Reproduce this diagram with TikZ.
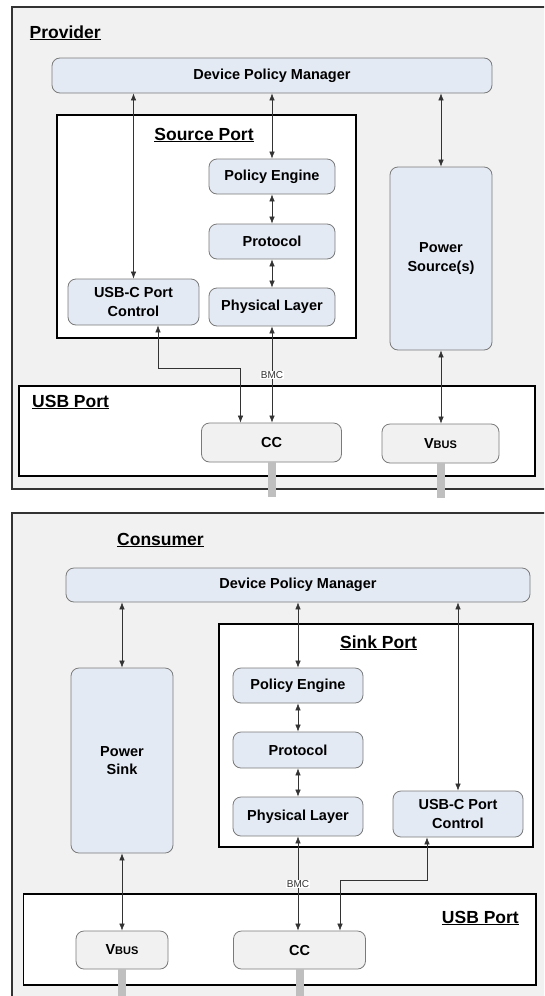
\documentclass[tikz,border=0pt]{standalone}
\usepackage{fontspec}
\setmainfont{Liberation Sans}
\usetikzlibrary{arrows.meta}
\definecolor{panelgray}{HTML}{F1F1F1}
\definecolor{boxblue}{HTML}{E4EAF4}
\definecolor{boxedge}{HTML}{7A7A7A}
\definecolor{stubgray}{HTML}{BFBFBF}
\tikzset{
  block/.style={draw=boxedge, fill=boxblue, rounded corners=8pt, line width=0.8pt,
    font=\bfseries\fontsize{14.5}{18.5}\selectfont, align=center, inner sep=0pt},
  portbox/.style={block, fill=panelgray},
  portframe/.style={draw=black, fill=white, line width=1.2pt},
  panel/.style={draw=black!80, fill=panelgray, line width=1.5pt},
  heading/.style={font=\bfseries\fontsize{17.5}{20}\selectfont, inner sep=0pt},
  link/.style={{Latex[length=7pt,width=5.5pt]}-{Latex[length=7pt,width=5.5pt]}, draw=black!80, line width=0.6pt},
  stub/.style={draw=stubgray, line width=8pt},
  bmc/.style={fill=white, font=\fontsize{10}{12}\selectfont, inner sep=0.6pt, text=black!80}
}
\begin{document}
\begin{tikzpicture}[x=1pt, y=-1pt]
  \useasboundingbox (0,0) rectangle (544,996);
  \clip (0,0) rectangle (544,996);
  % provider
  \draw[panel] (12,7) rectangle (600,489);
  \node[heading, anchor=base west] (provTitle) at (29.5,38) {\underline{Provider}};
  \node[block, minimum width=440pt, minimum height=35pt] (dpmA) at (272,75.5) {Device Policy Manager};
  \draw[portframe] (57,115) rectangle (356,338);
  \node[heading, anchor=base] (srcTitle) at (204,140) {\underline{Source Port}};
  \node[block, minimum width=126pt, minimum height=35pt] (peA) at (272,176.5) {Policy Engine};
  \node[block, minimum width=126pt, minimum height=35pt] (protoA) at (272,241.5) {Protocol};
  \node[block, minimum width=126pt, minimum height=38pt] (phyA) at (272,307) {Physical Layer};
  \node[block, minimum width=131pt, minimum height=46pt] (ctrlA) at (133.5,302) {USB-C Port\\Control};
  \node[block, minimum width=102pt, minimum height=183pt] (supplyA) at (441,258.5) {Power\\Source(s)};
  \draw[portframe] (19,386) rectangle (535,476);
  \node[heading, anchor=base west] (usbTitleA) at (32,407) {\underline{USB Port}};
  \node[portbox, minimum width=140pt, minimum height=39pt] (ccA) at (271.5,442.5) {CC};
  \node[portbox, minimum width=117pt, minimum height=39pt] (vbusA) at (440.5,443.5) {V{\fontsize{11}{12}\selectfont BUS}};
  \draw[stub] (ccA.south) -- ++(0,35);
  \draw[stub] (vbusA.south) -- ++(0,35);
  \coordinate (bendA) at (240.5,368);
  \begin{scope}[link]
    \draw (dpmA.south -| ctrlA.north) -- (ctrlA.north);
    \draw (dpmA.south -| peA.north) -- (peA.north);
    \draw (peA) -- (protoA);
    \draw (protoA) -- (phyA);
    \draw (phyA.south) -- (phyA.south |- ccA.north);
    \draw (dpmA.south -| supplyA.north) -- (supplyA.north);
    \draw (supplyA.south) -- (supplyA.south |- vbusA.north);
    \draw ([xshift=24.5pt]ctrlA.south) |- (bendA) -- (bendA |- ccA.north);
  \end{scope}
  \node[bmc] (bmcA) at (272,375) {BMC};
  % consumer
  \draw[panel] (12,513) rectangle (600,1100);
  \node[heading, anchor=base west] (consTitle) at (117,545) {\underline{Consumer}};
  \node[block, minimum width=464pt, minimum height=34pt] (dpmB) at (298,585) {Device Policy Manager};
  \draw[portframe] (219,624) rectangle (533,847);
  \node[heading, anchor=base] (sinkTitle) at (378.5,648) {\underline{Sink Port}};
  \node[block, minimum width=102pt, minimum height=185pt] (loadB) at (122,760.5) {Power\\Sink};
  \node[block, minimum width=130pt, minimum height=35pt] (peB) at (298,685.5) {Policy Engine};
  \node[block, minimum width=130pt, minimum height=36pt] (protoB) at (298,750) {Protocol};
  \node[block, minimum width=130pt, minimum height=39pt] (phyB) at (298,816.5) {Physical Layer};
  \node[block, minimum width=130pt, minimum height=46pt] (ctrlB) at (458,814) {USB-C Port\\Control};
  \draw[portframe] (23.6,894) rectangle (536,985);
  \node[heading, anchor=base east] (usbTitleB) at (519,923) {\underline{USB Port}};
  \node[portbox, minimum width=92pt, minimum height=38pt] (vbusB) at (122,950) {V{\fontsize{11}{12}\selectfont BUS}};
  \node[portbox, minimum width=132pt, minimum height=38pt] (ccB) at (299.5,950) {CC};
  \draw[stub] (vbusB.south) -- ++(0,40);
  \draw[stub] (ccB.south) -- ++(0,40);
  \coordinate (bendB) at (340,880);
  \begin{scope}[link]
    \draw (dpmB.south -| loadB.north) -- (loadB.north);
    \draw (loadB.south) -- (loadB.south |- vbusB.north);
    \draw (dpmB.south -| peB.north) -- (peB.north);
    \draw (peB) -- (protoB);
    \draw (protoB) -- (phyB);
    \draw (phyB.south) -- (phyB.south |- ccB.north);
    \draw (dpmB.south -| ctrlB.north) -- (ctrlB.north);
    \draw ([xshift=-31pt]ctrlB.south) |- (bendB) -- (bendB |- ccB.north);
  \end{scope}
  \node[bmc] (bmcB) at (298,884) {BMC};
\end{tikzpicture}
\end{document}
